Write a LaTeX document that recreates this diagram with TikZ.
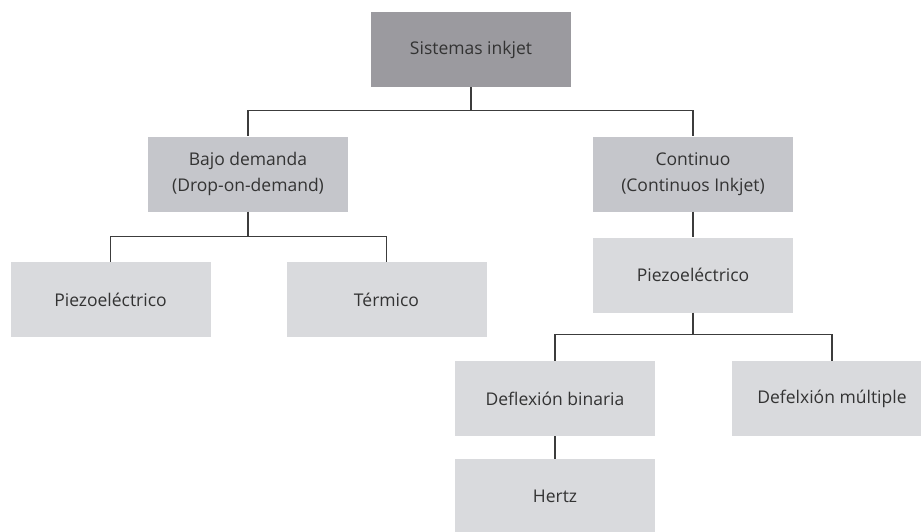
\documentclass[tikz,border=0pt]{standalone}
\usepackage{fontspec}
\setmainfont{Open Sans}
\usepackage{tikz}
\definecolor{darkbox}{HTML}{9B9A9F}
\definecolor{midbox}{HTML}{C5C6CB}
\definecolor{lightbox}{HTML}{D9DADD}
\definecolor{linegray}{HTML}{3C3C3C}
\definecolor{textgray}{HTML}{333333}
\tikzset{
    boxnode/.style={align=center,inner sep=0pt,text centered,rectangle,minimum width=200pt,minimum height=75pt,text=textgray,font=\fontsize{17.5}{26}\selectfont},
    rootnode/.style={boxnode,fill=darkbox},
    graynode/.style={boxnode,fill=midbox},
    leafnode/.style={boxnode,fill=lightbox},
    link/.style={draw=linegray,line width=1.2pt}
}
\begin{document}
\begin{tikzpicture}[x=1pt,y=-1pt]
\clip (0,0) rectangle (921,531);

\node[rootnode] (SI) at (471,49.5) {Sistemas inkjet};
\node[graynode] (BD) at (248,174) {Bajo demanda\\(Drop-on-demand)};
\node[graynode] (CO) at (693,174) {Continuo\\(Continuos Inkjet)};
\node[leafnode] (PL) at (110.5,299.5) {Piezoeléctrico};
\node[leafnode] (TE) at (386.5,299.5) {Térmico};
\node[leafnode] (PR) at (693,275) {Piezoeléctrico};
\node[leafnode] (DB) at (555,398.5) {Deflexión binaria};
\node[leafnode] (DM) at (832,398.5) {Defelxión múltiple};
\node[leafnode] (HZ) at (555,496.5) {Hertz};

\path[link]
(SI.south) -- ++(0,23) -| (BD.north)
(SI.south) -- ++(0,23) -| (CO.north)
(BD.south) -- ++(0,25) -| (PL.north)
(BD.south) -- ++(0,25) -| (TE.north)
(CO.south) -- (PR.north)
(PR.south) -- ++(0,22) -| (DB.north)
(PR.south) -- ++(0,22) -| (DM.north)
(DB.south) -- (HZ.north);

\end{tikzpicture}
\end{document}
